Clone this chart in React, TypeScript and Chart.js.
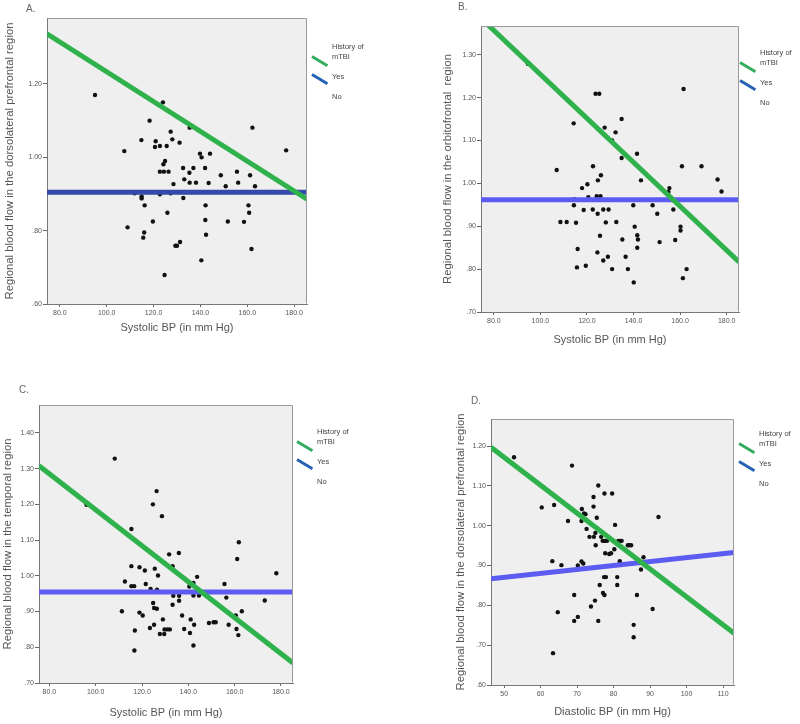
import React, { useEffect, useRef } from "react";
import { Chart, registerables } from "chart.js";

Chart.register(...registerables);

const FONT = "'Liberation Sans', Arial, Helvetica, sans-serif";

// ---------- Panel A: systolic BP vs DLPFC flow ----------
const aSystolic = [95.0, 124.0, 118.3, 135.4, 162.2, 127.3, 114.8, 120.9, 128.0, 131.1, 120.6, 122.7, 125.6, 107.5, 176.6, 139.8, 144.1, 140.5, 124.9, 124.2, 122.7, 124.4, 126.4, 132.6, 137.0, 135.3, 142.0, 148.7, 155.6, 161.2, 128.5, 133.1, 135.4, 138.1, 143.5, 150.8, 156.1, 163.3, 111.9, 114.9, 114.9, 122.7, 127.3, 132.7, 116.2, 142.2, 160.5, 125.9, 160.8, 119.7, 142.1, 151.7, 158.6, 108.9, 116.0, 115.6, 142.4, 131.3, 129.3, 130.0, 161.8, 140.4, 124.7];
const aFlow = [1.170, 1.150, 1.100, 1.081, 1.081, 1.070, 1.047, 1.044, 1.049, 1.040, 1.028, 1.031, 1.031, 1.017, 1.019, 1.010, 1.010, 1.000, 0.990, 0.981, 0.961, 0.961, 0.961, 0.971, 0.971, 0.958, 0.971, 0.951, 0.961, 0.951, 0.927, 0.940, 0.931, 0.931, 0.930, 0.921, 0.931, 0.921, 0.902, 0.893, 0.888, 0.899, 0.902, 0.889, 0.869, 0.869, 0.869, 0.849, 0.849, 0.825, 0.829, 0.825, 0.824, 0.809, 0.795, 0.781, 0.789, 0.769, 0.759, 0.759, 0.750, 0.719, 0.679];
const aFitX = [74.5, 185.5];
const aFitYes = [1.337, 0.886];
const aFitNo = [0.905, 0.905];

// ---------- Panel B: systolic BP vs orbitofrontal flow ----------
const bSystolic = [94.6, 123.7, 125.3, 161.5, 114.3, 134.9, 127.6, 132.3, 130.8, 134.9, 141.5, 107.0, 122.6, 126.0, 124.7, 143.2, 160.8, 169.2, 176.1, 177.8, 120.2, 117.9, 155.4, 155.0, 120.6, 124.2, 125.8, 114.6, 114.4, 139.9, 148.2, 118.6, 122.5, 124.6, 127.0, 129.3, 150.2, 157.1, 108.6, 111.3, 115.3, 128.1, 132.6, 140.5, 160.2, 160.2, 125.6, 141.6, 141.9, 135.2, 151.2, 157.9, 116.0, 124.5, 141.6, 127.0, 129.0, 136.6, 115.7, 119.5, 130.8, 137.6, 162.8, 161.2, 140.1];
const bFlow = [1.279, 1.209, 1.209, 1.220, 1.140, 1.150, 1.130, 1.119, 1.100, 1.059, 1.069, 1.031, 1.040, 1.019, 1.007, 1.007, 1.040, 1.040, 1.009, 0.981, 0.998, 0.989, 0.989, 0.980, 0.968, 0.970, 0.970, 0.963, 0.949, 0.949, 0.949, 0.938, 0.939, 0.929, 0.939, 0.939, 0.929, 0.939, 0.910, 0.910, 0.908, 0.909, 0.910, 0.899, 0.899, 0.890, 0.878, 0.879, 0.869, 0.869, 0.863, 0.868, 0.847, 0.839, 0.850, 0.820, 0.829, 0.829, 0.804, 0.808, 0.800, 0.800, 0.800, 0.779, 0.769];
const bFitX = [74.5, 185.3];
const bFitYes = [1.385, 0.817];
const bFitNo = [0.962, 0.962];

// ---------- Panel C: systolic BP vs temporal flow ----------
const cSystolic = [108.2, 96.0, 126.3, 124.7, 128.6, 115.4, 161.8, 161.1, 131.7, 135.9, 133.2, 178.0, 115.4, 118.9, 121.2, 125.5, 126.9, 143.8, 112.6, 115.4, 116.6, 121.6, 123.7, 126.5, 140.4, 142.2, 155.6, 124.8, 125.2, 126.4, 133.2, 136.0, 133.5, 136.0, 142.2, 144.6, 156.4, 173.0, 111.3, 118.9, 120.3, 137.3, 163.1, 160.5, 129.0, 141.0, 148.9, 150.9, 151.8, 157.4, 142.5, 125.2, 123.4, 138.2, 129.7, 130.9, 132.0, 160.8, 116.9, 127.7, 129.6, 140.7, 161.6, 142.2, 116.7];
const cFlow = [1.328, 1.199, 1.237, 1.200, 1.167, 1.131, 1.094, 1.047, 1.060, 1.064, 1.027, 1.007, 1.027, 1.024, 1.015, 1.020, 1.001, 0.997, 0.984, 0.971, 0.971, 0.977, 0.963, 0.961, 0.970, 0.980, 0.977, 0.924, 0.910, 0.908, 0.919, 0.930, 0.944, 0.944, 0.945, 0.945, 0.939, 0.931, 0.901, 0.897, 0.889, 0.889, 0.901, 0.889, 0.878, 0.878, 0.868, 0.870, 0.870, 0.863, 0.863, 0.863, 0.854, 0.851, 0.850, 0.850, 0.850, 0.851, 0.847, 0.837, 0.837, 0.840, 0.834, 0.805, 0.791];
const cFitX = [75.5, 185.2];
const cFitYes = [1.308, 0.756];
const cFitNo = [0.955, 0.955];

// ---------- Panel D: diastolic BP vs DLPFC flow ----------
const dDiastolic = [52.7, 68.6, 75.8, 74.5, 77.5, 79.6, 60.3, 63.7, 74.5, 71.3, 71.9, 72.3, 67.5, 71.2, 75.4, 92.3, 80.4, 72.6, 73.4, 74.6, 75.0, 75.1, 76.6, 77.0, 77.4, 77.7, 78.2, 81.3, 81.8, 82.2, 83.9, 84.3, 84.8, 77.7, 78.8, 79.3, 80.2, 81.7, 88.2, 87.5, 63.2, 65.7, 70.2, 71.2, 71.7, 77.4, 77.9, 81.0, 76.2, 81.0, 77.1, 77.5, 69.2, 86.4, 74.9, 73.8, 90.7, 64.7, 70.2, 69.2, 75.8, 85.5, 85.5, 63.4];
const dFlow = [1.172, 1.151, 1.101, 1.072, 1.081, 1.081, 1.046, 1.052, 1.048, 1.042, 1.031, 1.029, 1.012, 1.012, 1.020, 1.022, 1.002, 0.992, 0.972, 0.972, 0.982, 0.951, 0.972, 0.962, 0.962, 0.962, 0.962, 0.962, 0.962, 0.962, 0.951, 0.951, 0.951, 0.931, 0.929, 0.931, 0.941, 0.911, 0.921, 0.890, 0.911, 0.901, 0.900, 0.910, 0.905, 0.871, 0.871, 0.871, 0.851, 0.851, 0.831, 0.826, 0.826, 0.826, 0.812, 0.797, 0.791, 0.783, 0.771, 0.761, 0.761, 0.751, 0.720, 0.680];
const dFitX = [46.4, 113.0];
const dFitYes = [1.197, 0.730];
const dFitNo = [0.867, 0.933];

// ---------- tick values ----------
const sysTicks = [80, 100, 120, 140, 160, 180];
const diaTicks = [50, 60, 70, 80, 90, 100, 110];
const aYTicks = [0.6, 0.8, 1.0, 1.2];
const bYTicks = [0.7, 0.8, 0.9, 1.0, 1.1, 1.2, 1.3];
const cYTicks = [0.7, 0.8, 0.9, 1.0, 1.1, 1.2, 1.3, 1.4];
const dYTicks = [0.6, 0.7, 0.8, 0.9, 1.0, 1.1, 1.2];

const legendTitle = ["History of", "mTBI"];
const legendItems = ["Yes", "No"];

const GREEN = "#2fb24c";
const BLUE_DARK = "#3549aa";
const BLUE = "#5c5cf2";

type Spec = {
  label: string;
  left: number; top: number; w: number; h: number;
  plot: { l: number; t: number; r: number; b: number };
  xTitleY: number; yTitleX: number;
  xMin: number; xMax: number; yMin: number; yMax: number;
  xTicks: number[]; yTicks: number[]; xDecimals: boolean;
  xs: number[]; ys: number[];
  fitX: number[]; fitYes: number[]; fitNo: number[];
  blue: string;
  xTitle: string; yTitle: string;
  legendX: number; legendY: number;
  labelX: number; labelY: number;
};

const specs: Spec[] = [
  {
    label: "A.", left: 0, top: 0, w: 400, h: 360,
    plot: { l: 47, t: 18, r: 307, b: 304 }, xTitleY: 328, yTitleX: 10,
    xMin: 74.5, xMax: 185.5, yMin: 0.6, yMax: 1.38,
    xTicks: sysTicks, yTicks: aYTicks, xDecimals: true,
    xs: aSystolic, ys: aFlow, fitX: aFitX, fitYes: aFitYes, fitNo: aFitNo, blue: BLUE_DARK,
    xTitle: "Systolic BP (in mm Hg)", yTitle: "Regional blood flow in the dorsolateral prefrontal region",
    legendX: 332, legendY: 47, labelX: 26, labelY: 3,
  },
  {
    label: "B.", left: 400, top: 0, w: 400, h: 360,
    plot: { l: 481, t: 26, r: 739, b: 312 }, xTitleY: 340, yTitleX: 448,
    xMin: 74.5, xMax: 185.3, yMin: 0.7, yMax: 1.367,
    xTicks: sysTicks, yTicks: bYTicks, xDecimals: true,
    xs: bSystolic, ys: bFlow, fitX: bFitX, fitYes: bFitYes, fitNo: bFitNo, blue: BLUE,
    xTitle: "Systolic BP (in mm Hg)", yTitle: "Regional blood flow in the orbitofrontal  region",
    legendX: 760, legendY: 53, labelX: 458, labelY: 1,
  },
  {
    label: "C.", left: 0, top: 360, w: 400, h: 364,
    plot: { l: 39, t: 405, r: 293, b: 683 }, xTitleY: 713, yTitleX: 7.5,
    xMin: 75.5, xMax: 185.2, yMin: 0.7, yMax: 1.478,
    xTicks: sysTicks, yTicks: cYTicks, xDecimals: true,
    xs: cSystolic, ys: cFlow, fitX: cFitX, fitYes: cFitYes, fitNo: cFitNo, blue: BLUE,
    xTitle: "Systolic BP (in mm Hg)", yTitle: "Regional blood flow in the temporal region",
    legendX: 317, legendY: 432, labelX: 19, labelY: 384,
  },
  {
    label: "D.", left: 400, top: 360, w: 400, h: 364,
    plot: { l: 491, t: 419, r: 734, b: 685 }, xTitleY: 712, yTitleX: 461,
    xMin: 46.4, xMax: 113.0, yMin: 0.6, yMax: 1.268,
    xTicks: diaTicks, yTicks: dYTicks, xDecimals: false,
    xs: dDiastolic, ys: dFlow, fitX: dFitX, fitYes: dFitYes, fitNo: dFitNo, blue: BLUE,
    xTitle: "Diastolic BP (in mm Hg)", yTitle: "Regional blood flow in the dorsolateral prefrontal region",
    legendX: 759, legendY: 434, labelX: 471, labelY: 395,
  },
];

const fmtY = (v: number) => {
  const s = v.toFixed(2);
  return s.startsWith("0") ? s.slice(1) : s;
};

const plotFrame = {
  id: "plotFrame",
  beforeDraw(chart: any) {
    const { ctx, chartArea: a } = chart;
    ctx.save();
    ctx.fillStyle = "#efefef";
    ctx.fillRect(a.left, a.top, a.right - a.left, a.bottom - a.top);
    ctx.restore();
  },
  afterDraw(chart: any) {
    const { ctx, chartArea: a } = chart;
    ctx.save();
    ctx.strokeStyle = "#9a9a9a";
    ctx.lineWidth = 1;
    ctx.beginPath();
    ctx.moveTo(Math.round(a.left) + 0.5, Math.round(a.top) + 0.5);
    ctx.lineTo(Math.round(a.right) - 0.5, Math.round(a.top) + 0.5);
    ctx.lineTo(Math.round(a.right) - 0.5, Math.round(a.bottom) - 0.5);
    ctx.stroke();
    ctx.restore();
  },
};

function Panel({ s }: { s: Spec }) {
  const ref = useRef<HTMLCanvasElement>(null);
  useEffect(() => {
    const canvas = ref.current;
    if (!canvas) return;
    const pl = s.plot.l - s.left;
    const pt = s.plot.t - s.top;
    const pr = s.w - (s.plot.r - s.left);
    const xh = s.h - (s.plot.b - s.top);
    const tickFont = { family: FONT, size: 7 };
    const xTitleFont = { family: FONT, size: 11 };
    const yTitleFont = { family: FONT, size: 11.3 };
    const xLH = 11 * 1.2;
    const yLH = 11.3 * 1.2;
    const xTitlePadBottom = s.h - (s.xTitleY - s.top) - xLH / 2;
    const yTitlePadTop = s.yTitleX - s.left - yLH / 2;

    const points = s.xs.map((x, i) => ({ x, y: s.ys[i] }));
    const yesLine = s.fitX.map((x, i) => ({ x, y: s.fitYes[i] }));
    const noLine = s.fitX.map((x, i) => ({ x, y: s.fitNo[i] }));

    const chart = new Chart(canvas, {
      type: "scatter",
      data: {
        datasets: [
          {
            type: "line", label: "Yes", data: yesLine, borderColor: GREEN, backgroundColor: GREEN,
            borderWidth: 5, pointRadius: 0, fill: false, tension: 0, clip: 0, order: 0,
            borderCapStyle: "butt",
          } as any,
          {
            type: "line", label: "No", data: noLine, borderColor: s.blue, backgroundColor: s.blue,
            borderWidth: 5, pointRadius: 0, fill: false, tension: 0, clip: 0, order: 1,
            borderCapStyle: "butt",
          } as any,
          {
            type: "scatter", label: "cases", data: points, pointRadius: 2.2, pointBorderWidth: 0,
            backgroundColor: "#111111", borderColor: "#111111", order: 2,
          } as any,
        ],
      },
      options: {
        responsive: false,
        animation: false,
        events: [],
        layout: { padding: { left: 0, top: pt, right: pr, bottom: 0 } },
        plugins: { legend: { display: false }, tooltip: { enabled: false } },
        scales: {
          x: {
            type: "linear", min: s.xMin, max: s.xMax,
            afterFit: (sc: any) => { sc.height = xh; },
            afterBuildTicks: (sc: any) => { sc.ticks = s.xTicks.map((v) => ({ value: v })); },
            ticks: {
              font: tickFont, color: "#555", padding: 2, maxRotation: 0, autoSkip: false,
              callback: (v: any) => (s.xDecimals ? Number(v).toFixed(1) : String(v)),
            },
            grid: { drawOnChartArea: false, drawTicks: true, tickLength: 3, color: "#666" },
            border: { display: true, color: "#777", width: 1 },
            title: {
              display: true, text: s.xTitle, color: "#555", font: xTitleFont,
              padding: { top: 0, bottom: xTitlePadBottom },
            },
          },
          y: {
            type: "linear", min: s.yMin, max: s.yMax,
            afterFit: (sc: any) => { sc.width = pl; },
            afterBuildTicks: (sc: any) => { sc.ticks = s.yTicks.map((v) => ({ value: v })); },
            ticks: {
              font: tickFont, color: "#555", padding: 1, autoSkip: false,
              callback: (v: any) => fmtY(Number(v)),
            },
            grid: { drawOnChartArea: false, drawTicks: true, tickLength: 4, color: "#666" },
            border: { display: true, color: "#777", width: 1 },
            title: {
              display: true, text: s.yTitle, color: "#555", font: yTitleFont,
              padding: { top: yTitlePadTop, bottom: 0 },
            },
          },
        },
      } as any,
      plugins: [plotFrame],
    });
    return () => chart.destroy();
  }, [s]);

  const seg = (x: number, y: number, color: string, key: string) => (
    <div
      key={key}
      style={{
        position: "absolute", left: x, top: y - 1.5, width: 17.5, height: 3,
        background: color, transformOrigin: "0 50%", transform: "rotate(31deg)",
      }}
    />
  );
  const txt = (t: string, x: number, yc: number, key: string) => (
    <div
      key={key}
      style={{
        position: "absolute", left: x, top: yc - 5, height: 10, lineHeight: "10px",
        fontFamily: FONT, fontSize: 7.5, color: "#444", whiteSpace: "nowrap",
      }}
    >
      {t}
    </div>
  );
  const lx = s.legendX;
  const ly = s.legendY;

  return (
    <>
      <canvas
        ref={ref}
        width={s.w}
        height={s.h}
        style={{ position: "absolute", left: s.left, top: s.top, width: s.w, height: s.h }}
      />
      <div
        style={{
          position: "absolute", left: s.labelX, top: s.labelY, fontFamily: FONT,
          fontSize: 10, color: "#666", lineHeight: "12px",
        }}
      >
        {s.label}
      </div>
      {txt(legendTitle[0], lx, ly, "l0")}
      {txt(legendTitle[1], lx, ly + 9.5, "l1")}
      {seg(lx - 20, ly + 9.5, "#35ad5f", "g")}
      {txt(legendItems[0], lx, ly + 30, "l2")}
      {seg(lx - 20, ly + 27.5, "#2561b5", "b")}
      {txt(legendItems[1], lx, ly + 50, "l3")}
    </>
  );
}

export default function App() {
  return (
    <div
      style={{
        position: "absolute", left: 0, top: 0, width: 800, height: 724,
        background: "#ffffff", overflow: "hidden",
      }}
    >
      {specs.map((s) => (
        <Panel key={s.label} s={s} />
      ))}
    </div>
  );
}
